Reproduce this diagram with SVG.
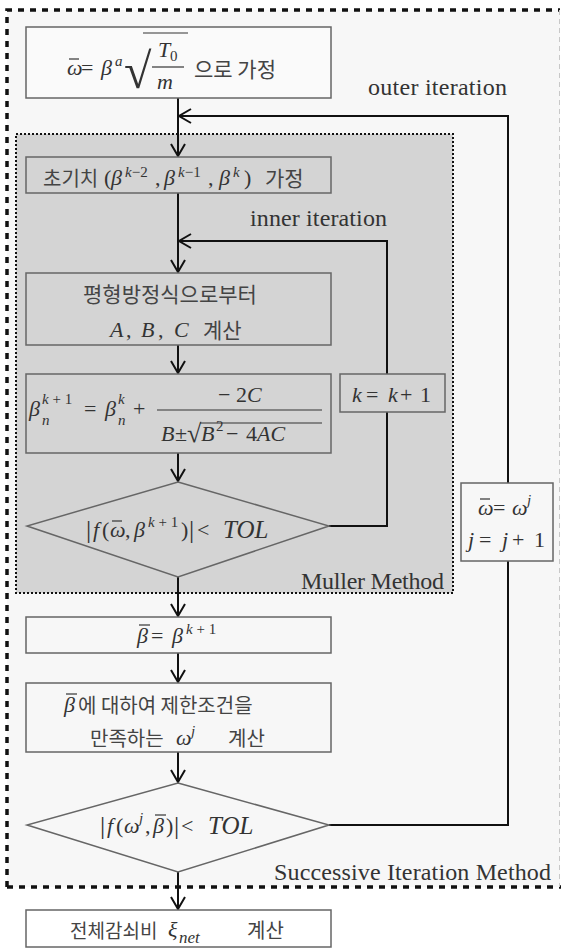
<svg xmlns="http://www.w3.org/2000/svg" width="561" height="949" viewBox="0 0 561 949">
<style>
.m{font-family:"Liberation Serif","Times New Roman",serif;font-size:22px;fill:#333}
.i{font-style:italic}
.s{font-size:15px}
.k{font-family:"Noto Sans CJK KR","Noto Sans",sans-serif;font-size:21px;fill:#444}
.lbl{font-family:"Liberation Serif","Times New Roman",serif;font-size:24px;fill:#333}
.box{stroke:#666;stroke-width:1.5}
.bar{stroke:#333;stroke-width:1.2}
.con{fill:none;stroke:#111;stroke-width:2}
</style>
<defs>
<marker id="arr" viewBox="0 0 16 16" markerWidth="16" markerHeight="16" refX="14" refY="8" orient="auto" markerUnits="userSpaceOnUse">
<path d="M2,1 L14,8 L2,15" fill="none" stroke="#111" stroke-width="2"/>
</marker>
</defs>
<rect width="561" height="949" fill="#ffffff"/>
<g id="outer-region">
<rect x="7" y="10" width="553" height="877" fill="#f7f7f7"/>
<path d="M7,887 V10 H560" fill="none" stroke="#111" stroke-width="3.5" stroke-dasharray="6 6"/>
<path d="M7,887 H561" fill="none" stroke="#111" stroke-width="3.5" stroke-dasharray="6 6"/>
<path d="M559.5,10 V887" fill="none" stroke="#c8c8c8" stroke-width="1" stroke-dasharray="5 4"/>
<text class="lbl" x="274" y="880" textLength="277">Successive Iteration Method</text>
</g>
<g id="muller-region">
<rect x="16" y="134" width="437" height="459" fill="#d4d4d4" stroke="#111" stroke-width="2" stroke-dasharray="2 2"/>
<text class="lbl" x="301" y="589" textLength="143">Muller Method</text>
</g>
<g id="connectors">
<path class="con" d="M178,98 V156" marker-end="url(#arr)"/>
<path class="con" d="M329,825 H508 V116 H179" marker-end="url(#arr)"/>
<path class="con" d="M178,193 V272" marker-end="url(#arr)"/>
<path class="con" d="M329,526 H387 V241 H179" marker-end="url(#arr)"/>
<path class="con" d="M178,345 V373" marker-end="url(#arr)"/>
<path class="con" d="M178,453 V481" marker-end="url(#arr)"/>
<path class="con" d="M178,577 V616" marker-end="url(#arr)"/>
<path class="con" d="M178,653 V682" marker-end="url(#arr)"/>
<path class="con" d="M178,752 V782" marker-end="url(#arr)"/>
<path class="con" d="M178,872 V909" marker-end="url(#arr)"/>
<text class="lbl" x="368" y="95" textLength="139">outer iteration</text>
<text class="lbl" x="250" y="226" textLength="137">inner iteration</text>
</g>
<g id="n1">
<rect class="box" x="26" y="27" width="305" height="71" fill="#fafafa"/>
<text class="m i" x="67" y="75">ω</text>
<line class="bar" x1="69" y1="59" x2="79" y2="59"/>
<text class="m" x="81" y="75">=</text>
<text class="m i" x="101" y="75">β</text>
<text class="m i s" x="115" y="66">a</text>
<text class="m" x="124" y="88" style="font-size:50px">√</text>
<line class="bar" x1="143" y1="33" x2="188" y2="33"/>
<text class="m i" x="158" y="57">T</text>
<text class="m s" x="170" y="61">0</text>
<line class="bar" x1="152" y1="67" x2="184" y2="67"/>
<text class="m i" x="157" y="89">m</text>
<text class="k" x="194" y="77">으로 가정</text>
</g>
<g id="n2">
<rect class="box" x="26" y="157" width="305" height="36" fill="#d4d4d4"/>
<text class="k" x="43" y="186" style="font-size:20px">초기치</text>
<text class="m" x="104" y="185">(</text>
<text class="m i" x="111" y="185">β</text>
<text class="m s" x="125" y="177"><tspan class="i">k</tspan>−2</text>
<text class="m" x="155" y="185">,</text>
<text class="m i" x="164" y="185">β</text>
<text class="m s" x="178" y="177"><tspan class="i">k</tspan>−1</text>
<text class="m" x="208" y="185">,</text>
<text class="m i" x="219" y="185">β</text>
<text class="m i s" x="233" y="177">k</text>
<text class="m" x="244" y="185">)</text>
<text class="k" x="265" y="186">가정</text>
</g>
<g id="n3">
<rect class="box" x="26" y="273" width="305" height="72" fill="#d4d4d4"/>
<text class="k" x="83" y="302">평형방정식으로부터</text>
<text class="m" y="337"><tspan class="i" x="110">A</tspan><tspan x="126">,</tspan><tspan class="i" x="141">B</tspan><tspan x="158">,</tspan><tspan class="i" x="174">C</tspan></text>
<text class="k" x="203" y="338">계산</text>
</g>
<g id="n4">
<rect class="box" x="26" y="374" width="305" height="79" fill="#d4d4d4"/>
<text class="m i" x="29" y="416">β</text>
<text class="m s" x="42" y="404"><tspan class="i">k</tspan> + 1</text>
<text class="m i s" x="42" y="425">n</text>
<text class="m" x="84" y="416">=</text>
<text class="m i" x="105" y="416">β</text>
<text class="m i s" x="118" y="404">k</text>
<text class="m i s" x="118" y="425">n</text>
<text class="m" x="133" y="416">+</text>
<text class="m" x="218" y="402">− 2<tspan class="i">C</tspan></text>
<line class="bar" x1="157" y1="410" x2="322" y2="410"/>
<text class="m i" x="161" y="441">B</text>
<text class="m" x="175" y="441">±</text>
<text class="m" x="187" y="442" style="font-size:26px">√</text>
<line class="bar" x1="200" y1="423" x2="322" y2="423"/>
<text class="m i" x="201" y="441">B</text>
<text class="m s" x="216" y="431">2</text>
<text class="m" x="226" y="441">−</text>
<text class="m" x="246" y="441">4<tspan class="i">AC</tspan></text>
</g>
<g id="n5">
<polygon class="box" points="178,482 329,526 178,577 27,526" fill="#d4d4d4"/>
<text class="m" x="86" y="538" style="font-size:26px">|</text>
<text class="m i" x="93" y="537">f</text>
<text class="m" x="102" y="537">(</text>
<text class="m i" x="110" y="537">ω</text>
<line class="bar" x1="112" y1="521" x2="122" y2="521"/>
<text class="m" x="125" y="537">,</text>
<text class="m i" x="134" y="537">β</text>
<text class="m s" x="148" y="527"><tspan class="i">k</tspan> + 1</text>
<text class="m" x="181" y="537">)</text>
<text class="m" x="189" y="538" style="font-size:26px">|</text>
<text class="m" x="197" y="537">&lt;</text>
<text class="m i" x="223" y="538" style="font-size:25px">TOL</text>
</g>
<g id="n6">
<rect class="box" x="340" y="374" width="105" height="38" fill="#d4d4d4"/>
<text class="m i" x="352" y="402">k</text>
<text class="m" x="366" y="402">=</text>
<text class="m i" x="388" y="402">k</text>
<text class="m" x="400" y="402">+</text>
<text class="m" x="420" y="402">1</text>
</g>
<g id="n7">
<rect class="box" x="26" y="617" width="305" height="36" fill="#f7f7f7"/>
<text class="m i" x="137" y="643">β</text>
<line class="bar" x1="139" y1="625" x2="150" y2="625"/>
<text class="m" x="151" y="643">=</text>
<text class="m i" x="172" y="643">β</text>
<text class="m s" x="186" y="634"><tspan class="i">k</tspan> + 1</text>
</g>
<g id="n8">
<rect class="box" x="26" y="683" width="305" height="69" fill="#f7f7f7"/>
<text class="m i" x="64" y="712">β</text>
<line class="bar" x1="66" y1="694" x2="77" y2="694"/>
<text class="k" x="78" y="713" style="font-size:20px">에 대하여 제한조건을</text>
<text class="k" x="90" y="746" style="font-size:20px">만족하는</text>
<text class="m i" x="176" y="745">ω</text>
<text class="m i s" x="191" y="736">j</text>
<text class="k" x="228" y="746" style="font-size:20px">계산</text>
</g>
<g id="n9">
<polygon class="box" points="178,783 329,825 178,872 27,825" fill="#f7f7f7"/>
<text class="m" x="100" y="834" style="font-size:26px">|</text>
<text class="m i" x="107" y="833">f</text>
<text class="m" x="116" y="833">(</text>
<text class="m i" x="124" y="833">ω</text>
<text class="m i s" x="139" y="823">j</text>
<text class="m" x="145" y="833">,</text>
<text class="m i" x="153" y="833">β</text>
<line class="bar" x1="155" y1="815" x2="166" y2="815"/>
<text class="m" x="166" y="833">)</text>
<text class="m" x="174" y="834" style="font-size:26px">|</text>
<text class="m" x="181" y="833">&lt;</text>
<text class="m i" x="208" y="834" style="font-size:25px">TOL</text>
</g>
<g id="n10">
<rect class="box" x="461" y="483" width="92" height="78" fill="#f7f7f7"/>
<text class="m i" x="478" y="515">ω</text>
<line class="bar" x1="480" y1="499" x2="490" y2="499"/>
<text class="m" x="493" y="515">=</text>
<text class="m i" x="512" y="515">ω</text>
<text class="m i s" x="527" y="505">j</text>
<text class="m i" x="468" y="547">j</text>
<text class="m" x="479" y="547">=</text>
<text class="m i" x="502" y="547">j</text>
<text class="m" x="512" y="547">+</text>
<text class="m" x="534" y="547">1</text>
</g>
<g id="n11">
<rect class="box" x="26" y="910" width="305" height="37" fill="#ffffff"/>
<text class="k" x="70" y="938" style="font-size:19px">전체감쇠비</text>
<text class="m i" x="168" y="937">ξ</text>
<text class="m i" x="179" y="943" style="font-size:17px">net</text>
<text class="k" x="247" y="938" style="font-size:20px">계산</text>
</g>
</svg>
